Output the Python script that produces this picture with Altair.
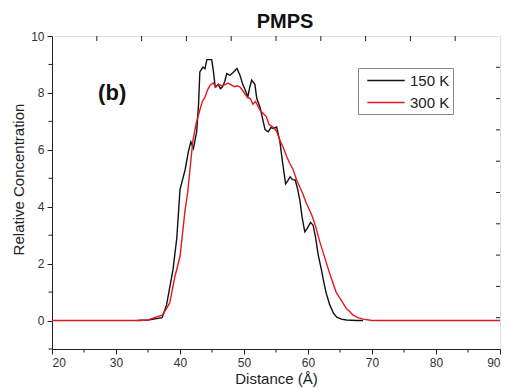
import altair as alt
import pandas as pd
import numpy as np

# 150 K series
x150 = [33.4, 35, 37.2, 37.9, 38.9, 39.5, 40, 40.8, 41.3, 41.7, 42.1, 42.6, 42.9, 43.1, 43.6, 43.9,
        44.2, 44.95, 45.2, 45.5, 46, 46.3, 46.6, 47, 47.3, 47.8, 48.3, 48.9, 49.4, 49.8, 50.2, 50.6,
        50.9, 51.2, 51.7, 52, 52.5, 53.3, 53.8, 54.2, 54.6, 55.1, 55.6, 56, 56.5, 56.8, 57.2, 57.6,
        58, 58.4, 58.75, 59.1, 59.5, 59.9, 60.4, 60.8, 61.2, 61.6, 62.1, 62.4, 62.8, 63.4, 64, 64.5,
        65.2, 66, 67.5, 68.6]
y150 = [0, 0.02, 0.1, 0.55, 1.78, 2.9, 4.6, 5.3, 5.93, 6.28, 6.05, 6.63, 7.6, 8.74, 8.91, 8.85,
        9.17, 9.17, 8.8, 8.21, 8.3, 8.15, 8.2, 8.4, 8.68, 8.62, 8.72, 8.86, 8.6, 8.3, 8.1, 7.86,
        8.2, 8.45, 8.3, 7.8, 7.5, 6.7, 6.63, 6.78, 6.75, 6.8, 6.3, 5.6, 4.8, 4.9, 5.05, 4.95,
        4.94, 4.6, 4.2, 3.6, 3.12, 3.25, 3.45, 3.35, 2.9, 2.3, 1.78, 1.43, 1.0, 0.55, 0.25, 0.12,
        0.05, 0.02, 0, 0]

# 300 K series
x300 = [20, 33.4, 35, 36, 37.3, 38.4, 39.2, 40, 40.8, 41.2, 42, 42.5, 43.1, 43.5, 43.9, 44.3,
        44.7, 45.2, 45.6, 46, 46.5, 47, 47.5, 48, 48.5, 49, 49.4, 49.9, 50.5, 51, 51.4, 51.8,
        52.5, 52.9, 53.5, 53.9, 54.5, 55.1, 55.6, 56.1, 56.7, 57.2, 57.7, 58.2, 58.7, 59.2, 59.7,
        60.2, 60.6, 61.2, 61.8, 62.4, 62.9, 63.4, 63.9, 64.4, 65, 65.5, 66, 66.6, 67, 67.8, 68.6,
        69.5, 70, 90]
y300 = [0, 0, 0.02, 0.1, 0.2, 0.62, 1.54, 2.25, 3.9, 4.5, 6.3, 6.9, 7.4, 7.7, 7.85, 8.1,
        8.27, 8.35, 8.2, 8.3, 8.25, 8.28, 8.35, 8.28, 8.22, 8.25, 8.2, 8.05, 7.85, 7.8, 7.6, 7.7,
        7.39, 7.3, 7.16, 6.9, 6.8, 6.65, 6.34, 6.1, 5.75, 5.5, 5.29, 4.95, 4.7, 4.45, 4.15,
        3.9, 3.7, 3.3, 2.8, 2.37, 2.0, 1.65, 1.32, 1.0, 0.78, 0.6, 0.42, 0.3, 0.2, 0.1, 0.05,
        0.02, 0, 0]

series_names = ["150 K", "300 K"]
series_colors = ["#111111", "#e3171f"]

x_major = [20, 30, 40, 50, 60, 70, 80, 90]
x_minor = [25, 35, 45, 55, 65, 75, 85]
y_major = [0, 2, 4, 6, 8, 10]
y_minor = [-1, 1, 3, 5, 7, 9]

FONT = "Liberation Sans"
AX = "#222"

df = pd.concat([
    pd.DataFrame({"x": x150, "y": y150, "s": series_names[0], "o": 0}),
    pd.DataFrame({"x": x300, "y": y300, "s": series_names[1], "o": 1}),
])

xscale = alt.Scale(domain=[20, 90], nice=False, zero=False)
yscale = alt.Scale(domain=[-1, 10], nice=False, zero=False)

lines = alt.Chart(df).mark_line(strokeWidth=1.4).encode(
    x=alt.X("x:Q", scale=xscale, title="Distance (Å)",
            axis=alt.Axis(values=x_major, grid=False, labelOverlap=False, tickSize=5,
                          labelFontSize=12, labelColor="#333", labelPadding=3, labelFont=FONT,
                          titleFont=FONT, titleFontSize=15, titleFontWeight="normal", titleColor=AX,
                          titlePadding=3, domainColor=AX, tickColor=AX)),
    y=alt.Y("y:Q", scale=yscale, title="Relative Concentration",
            axis=alt.Axis(values=y_major, grid=False, labelOverlap=False, tickSize=5,
                          labelFontSize=12, labelColor="#333", labelPadding=3, labelFont=FONT,
                          titleFont=FONT, titleFontSize=15, titleFontWeight="normal", titleColor=AX,
                          titlePadding=4, titleY=143, domainColor=AX, tickColor=AX)),
    color=alt.Color("s:N", scale=alt.Scale(domain=series_names, range=series_colors),
                    legend=alt.Legend(title=None, orient="none", legendX=306, legendY=32,
                                      symbolType="M-2.2,0H2.2", symbolSize=289, symbolStrokeWidth=1.4,
                                      symbolOffset=15.5, labelOffset=14.5,
                                      labelFont=FONT, labelFontSize=15, labelColor=AX,
                                      strokeColor="#888", padding=3, rowPadding=4)),
    order="o:Q",
)

label_df = pd.DataFrame({"x": [29.4], "y": [8.0], "t": ["(b)"]})
label = alt.Chart(label_df).mark_text(font=FONT, fontSize=22, fontWeight="bold", color="#111",
                                      align="center", baseline="middle").encode(
    x=alt.X("x:Q", scale=xscale), y=alt.Y("y:Q", scale=yscale), text="t:N")

# minor ticks on left and bottom (outward)
xminor_ticks = alt.Chart(pd.DataFrame({"x": x_minor})).mark_rule(color=AX).encode(
    x=alt.X("x:Q", scale=xscale), y=alt.value(313), y2=alt.value(316.5))
yminor_ticks = alt.Chart(pd.DataFrame({"y": y_minor})).mark_rule(color=AX).encode(
    y=alt.Y("y:Q", scale=yscale), x=alt.value(-3.5), x2=alt.value(0))

# inward ticks on top and right edges (10 equal divisions)
top_ticks = alt.Chart(pd.DataFrame({"x": np.linspace(20, 90, 11)[1:-1]})).mark_rule(color=AX).encode(
    x=alt.X("x:Q", scale=xscale), y=alt.value(0), y2=alt.value(5))
right_ticks = alt.Chart(pd.DataFrame({"y": np.linspace(-1, 10, 11)[1:-1]})).mark_rule(color=AX).encode(
    y=alt.Y("y:Q", scale=yscale), x=alt.value(444), x2=alt.value(448))

chart = alt.layer(lines, label, xminor_ticks, yminor_ticks, top_ticks, right_ticks).properties(
    width=448, height=313,
    title=alt.TitleParams("PMPS", font=FONT, fontSize=20, fontWeight="bold", color="#111",
                          anchor="middle", dx=9, dy=2, offset=0),
    autosize=alt.AutoSizeParams(type="none"),
    padding={"left": 44, "top": 28, "right": 2, "bottom": 40},
).configure_view(stroke=AX, strokeWidth=1).configure(background="white")

chart.save("out.html", embed_options={"renderer": "svg", "actions": False})
